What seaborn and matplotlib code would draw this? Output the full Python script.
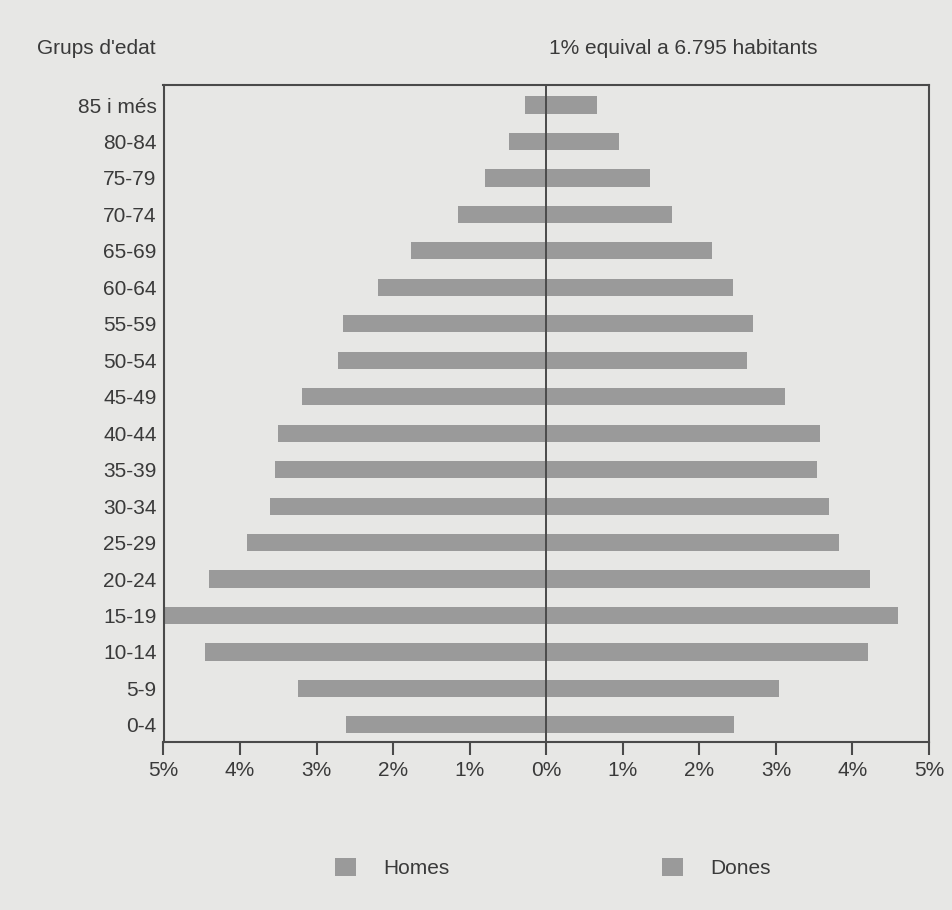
import pandas as pd
import matplotlib
matplotlib.use("Agg")
import matplotlib.pyplot as plt
import seaborn as sns
from matplotlib.patches import Patch

# --- Data (percent of total population) ---
age_groups = ["85 i més", "80-84", "75-79", "70-74", "65-69", "60-64", "55-59",
              "50-54", "45-49", "40-44", "35-39", "30-34", "25-29", "20-24",
              "15-19", "10-14", "5-9", "0-4"]
homes = [0.28, 0.49, 0.80, 1.15, 1.77, 2.20, 2.66, 2.72, 3.19, 3.51, 3.54,
         3.61, 3.91, 4.41, 5.00, 4.46, 3.24, 2.61]
dones = [0.66, 0.95, 1.35, 1.64, 2.17, 2.44, 2.70, 2.62, 3.12, 3.58, 3.54,
         3.69, 3.83, 4.23, 4.60, 4.20, 3.04, 2.45]
xticks = [-5, -4, -3, -2, -1, 0, 1, 2, 3, 4, 5]
xtick_labels = ["5%", "4%", "3%", "2%", "1%", "0%", "1%", "2%", "3%", "4%", "5%"]

df = pd.DataFrame({"grup": age_groups, "homes": [-v for v in homes], "dones": dones})

# --- Style ---
bg = "#e7e7e5"
bar_color = "#9a9a9a"
frame = "#4a4a4a"
text_color = "#3a3a3a"

sns.set_style("white")
plt.rcParams["font.family"] = ["Liberation Sans", "DejaVu Sans"]

fig = plt.figure(figsize=(9.52, 9.10), dpi=100, facecolor=bg)
ax = fig.add_axes([163.5 / 952, 1 - 742 / 910, (929 - 163.5) / 952, (742 - 85) / 910])
ax.set_facecolor(bg)

# men to the left (negative), women to the right
sns.barplot(data=df, y="grup", x="homes", order=age_groups, orient="h",
            color=bar_color, width=0.47, saturation=1, linewidth=0, ax=ax)
sns.barplot(data=df, y="grup", x="dones", order=age_groups, orient="h",
            color=bar_color, width=0.47, saturation=1, linewidth=0, ax=ax)

ax.set_xlim(-5, 5)
ax.set_ylim(len(age_groups) - 1 + 0.47, -0.55)
ax.axvline(0, color=frame, lw=1.4, zorder=3)

for s in ax.spines.values():
    s.set_visible(True)
    s.set_color(frame)
    s.set_linewidth(1.5)

ax.set_xticks(xticks)
ax.set_xticklabels(xtick_labels)
ax.tick_params(axis="x", bottom=True, direction="out", length=9, width=1.5,
               color=frame, pad=5, labelsize=15, labelcolor=text_color)
ax.tick_params(axis="y", left=False, length=0, pad=5, labelsize=15,
               labelcolor=text_color)
ax.set_xlabel("")
ax.set_ylabel("")

fig.text(37 / 952, 1 - 49 / 910, "Grups d'edat", fontsize=15, color=text_color,
         ha="left", va="center")
fig.text(549 / 952, 1 - 49 / 910, "1% equival a 6.795 habitants", fontsize=15,
         color=text_color, ha="left", va="center")

handles = [Patch(facecolor=bar_color, edgecolor="none", label="Homes"),
           Patch(facecolor=bar_color, edgecolor="none", label="Dones")]
fig.legend(handles=handles, loc="center", bbox_to_anchor=(553 / 952, 1 - 868 / 910),
           ncol=2, frameon=False, fontsize=15, handlelength=1.0, handleheight=1.0,
           handletextpad=1.3, columnspacing=10.2, labelcolor=text_color)

fig.savefig("out.png", dpi=100, facecolor=bg)
